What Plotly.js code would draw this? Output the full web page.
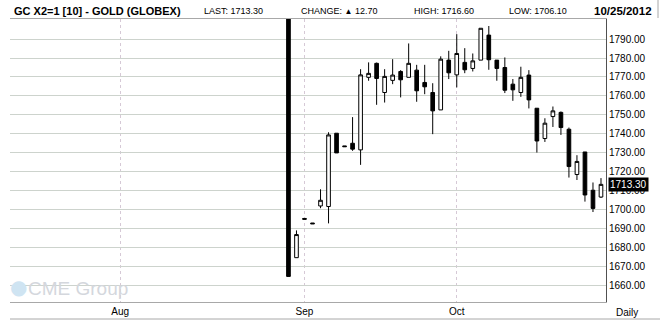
<!DOCTYPE html>
<html>
<head>
<meta charset="utf-8">
<script src="https://cdn.plot.ly/plotly-3.0.1.min.js"></script>
<style>
html,body{margin:0;padding:0;background:#fff;}
#chart{width:662px;height:324px;}
</style>
</head>
<body>
<div id="chart"></div>
<script>
// ---- data ----
const dates = ['2012-08-30','2012-08-31',
  '2012-09-04','2012-09-05','2012-09-06','2012-09-07',
  '2012-09-10','2012-09-11','2012-09-12','2012-09-13','2012-09-14',
  '2012-09-17','2012-09-18','2012-09-19','2012-09-20','2012-09-21',
  '2012-09-24','2012-09-25','2012-09-26','2012-09-27','2012-09-28',
  '2012-10-01','2012-10-02','2012-10-03','2012-10-04','2012-10-05',
  '2012-10-08','2012-10-09','2012-10-10','2012-10-11','2012-10-12',
  '2012-10-15','2012-10-16','2012-10-17','2012-10-18','2012-10-19',
  '2012-10-22','2012-10-23','2012-10-24','2012-10-25'];
const openP  = [1810,1674.6,1695.3,1692.9,1701.9,1701.6,1740.3,1733.6,1735.0,1731.5,1769.8,
  1777.2,1761.8,1768.2,1772.9,1769.8,1773.6,1767.1,1761.8,1752.6,1778.9,
  1771.1,1777.7,1774.5,1778.9,1792.1,1778.9,1775.0,1766.2,1761.8,1771.0,
  1753.5,1737.5,1749.1,1751.3,1742.4,1718.5,1730.4,1710.2,1706.6];
const highP  = [1810,1689.0,1695.3,1692.9,1710.7,1740.8,1740.3,1733.6,1748.8,1774.1,1777.7,
  1777.6,1774.1,1779.4,1773.6,1787.7,1776.4,1776.4,1766.7,1780.9,1783.8,
  1792.6,1785.2,1782.4,1795.7,1796.9,1778.9,1780.3,1768.9,1775.4,1773.6,
  1753.5,1748.2,1754.4,1751.8,1743.3,1728.7,1730.4,1714.3,1716.6];
const lowP   = [1664.7,1674.6,1694.9,1692.5,1700.7,1692.7,1729.9,1733.2,1731.0,1723.6,1768.0,
  1755.3,1756.5,1766.2,1759.2,1769.8,1756.9,1760.9,1739.8,1752.6,1768.9,
  1764.5,1772.0,1772.9,1778.9,1773.8,1768.0,1761.5,1757.4,1759.5,1753.4,
  1730.1,1735.7,1743.6,1739.4,1716.9,1715.6,1704.2,1698.7,1706.1];
const closeP = [1664.7,1686.8,1694.9,1692.5,1704.9,1739.4,1729.9,1733.2,1731.9,1771.1,1771.9,
  1769.2,1770.3,1771.0,1768.5,1777.2,1762.7,1764.8,1752.1,1779.4,1772.2,
  1782.4,1773.8,1778.5,1795.7,1779.1,1774.5,1763.0,1763.2,1769.8,1757.9,
  1736.2,1745.6,1752.1,1743.3,1722.7,1725.4,1707.7,1700.6,1713.3];

const tickDates  = ['2012-08-01','2012-09-04','2012-10-01'];
const tickLabels = ['Aug','Sep','Oct'];
const holidays   = ['2012-09-03'];
const priceTicks = [1660,1670,1680,1690,1700,1710,1720,1730,1740,1750,1760,1770,1780,1790];

const symbolTitle = 'GC X2=1 [10] - GOLD (GLOBEX)';
const lastPrice = 1713.30;
const changeVal = 12.70;
const highVal = 1716.60;
const lowVal = 1706.10;
const quoteDate = '10/25/2012';

// ---- layout helpers (pixel -> paper) ----
const W = 662, H = 324, L = 10, R = 56, T = 19, B = 22;
const PW = W - L - R, PH = H - T - B;
const xp = px => (px - L) / PW;
const yp = py => (H - B - py) / PH;

const noon = d => d + ' 12:00';

const trace = {
  type: 'candlestick',
  x: dates.map(noon),
  open: openP, high: highP, low: lowP, close: closeP,
  increasing: {line: {color: '#000', width: 1}, fillcolor: '#ffffff'},
  decreasing: {line: {color: '#000', width: 1}, fillcolor: '#000000'},
  whiskerwidth: 0,
  hoverinfo: 'skip',
  showlegend: false
};

const fontMain = 'Liberation Sans, Arial, sans-serif';
const hdr = (text, px, anchor, extra) => Object.assign({
  text: text, xref: 'paper', yref: 'paper', x: xp(px), y: yp(11),
  xanchor: anchor, yanchor: 'middle', showarrow: false,
  font: {family: fontMain, size: 9, color: '#000'}
}, extra || {});

const annotations = [
  hdr('<b>' + symbolTitle + '</b>', 12, 'left',
      {font: {family: fontMain, size: 11, color: '#000'}}),
  hdr('LAST: ' + lastPrice.toFixed(2), 202, 'left'),
  hdr('CHANGE: <span style="font-size:8px">▲</span> ' + changeVal.toFixed(2), 299, 'left'),
  hdr('HIGH: ' + highVal.toFixed(2), 412, 'left'),
  hdr('LOW: ' + lowVal.toFixed(2), 507, 'left'),
  hdr('<b>' + quoteDate + '</b>', 654, 'right', {font: {family: fontMain, size: 11.5, color: '#000'}}),
  {text: 'Daily', xref: 'paper', yref: 'paper', x: xp(627), y: yp(312), xanchor: 'center', yanchor: 'middle',
   showarrow: false, font: {family: fontMain, size: 10, color: '#000'}},
  {text: '●', xref: 'paper', yref: 'paper', x: xp(8), y: yp(287),
   xanchor: 'left', yanchor: 'middle', showarrow: false,
   font: {family: 'DejaVu Sans, sans-serif', size: 20, color: '#cfe4f2'}},
  {text: 'CME Group', xref: 'paper', yref: 'paper', x: xp(26), y: yp(288),
   xanchor: 'left', yanchor: 'middle', showarrow: false,
   font: {family: fontMain, size: 19, color: '#d4d7dd'}},
  {text: closeP[closeP.length - 1].toFixed(2), xref: 'paper', yref: 'y', x: xp(607.5), y: closeP[closeP.length - 1],
   xanchor: 'left', yanchor: 'middle', showarrow: false, bgcolor: '#000', borderpad: 1,
   font: {family: fontMain, size: 10, color: '#fff'}}
];

const shapes = [
  {type: 'line', xref: 'paper', yref: 'paper', x0: xp(10), x1: xp(660), y0: yp(319), y1: yp(319),
   line: {color: '#a8a8a8', width: 1}},
  {type: 'line', xref: 'paper', yref: 'paper', x0: xp(658), x1: xp(658), y0: yp(0), y1: yp(18),
   line: {color: '#a8a8a8', width: 1}}
];

const layout = {
  width: W, height: H,
  margin: {l: L, r: R, t: T, b: B, pad: 0},
  paper_bgcolor: '#fff', plot_bgcolor: '#fff',
  showlegend: false,
  boxgap: 0.35,
  hovermode: false,
  xaxis: {
    type: 'date',
    range: ['2012-07-12 18:00', '2012-10-26 03:00'],
    rangebreaks: [{bounds: ['sat', 'mon']}, {values: holidays}],
    rangeslider: {visible: false},
    tickmode: 'array',
    tickvals: tickDates.map(noon),
    ticktext: tickLabels,
    ticks: '',
    showgrid: true, gridcolor: '#d6c9d6', griddash: 'dot', gridwidth: 1,
    showline: true, linecolor: '#a8a8a8', linewidth: 1, mirror: true,
    zeroline: false,
    tickfont: {family: fontMain, size: 10, color: '#000'},
    fixedrange: true
  },
  yaxis: {
    side: 'right',
    range: [1651.2, 1800.6],
    tickmode: 'array',
    tickvals: priceTicks,
    ticktext: priceTicks.map(v => v.toFixed(2)),
    ticks: '',
    ticklabelstandoff: 0,
    showgrid: true, gridcolor: '#cdd3cd', gridwidth: 1,
    showline: true, linecolor: '#505050', linewidth: 1,
    zeroline: false,
    tickfont: {family: fontMain, size: 10, color: '#000'},
    fixedrange: true
  },
  annotations: annotations,
  shapes: shapes
};

Plotly.newPlot('chart', [trace], layout, {staticPlot: true, displayModeBar: false});
</script>
</body>
</html>
